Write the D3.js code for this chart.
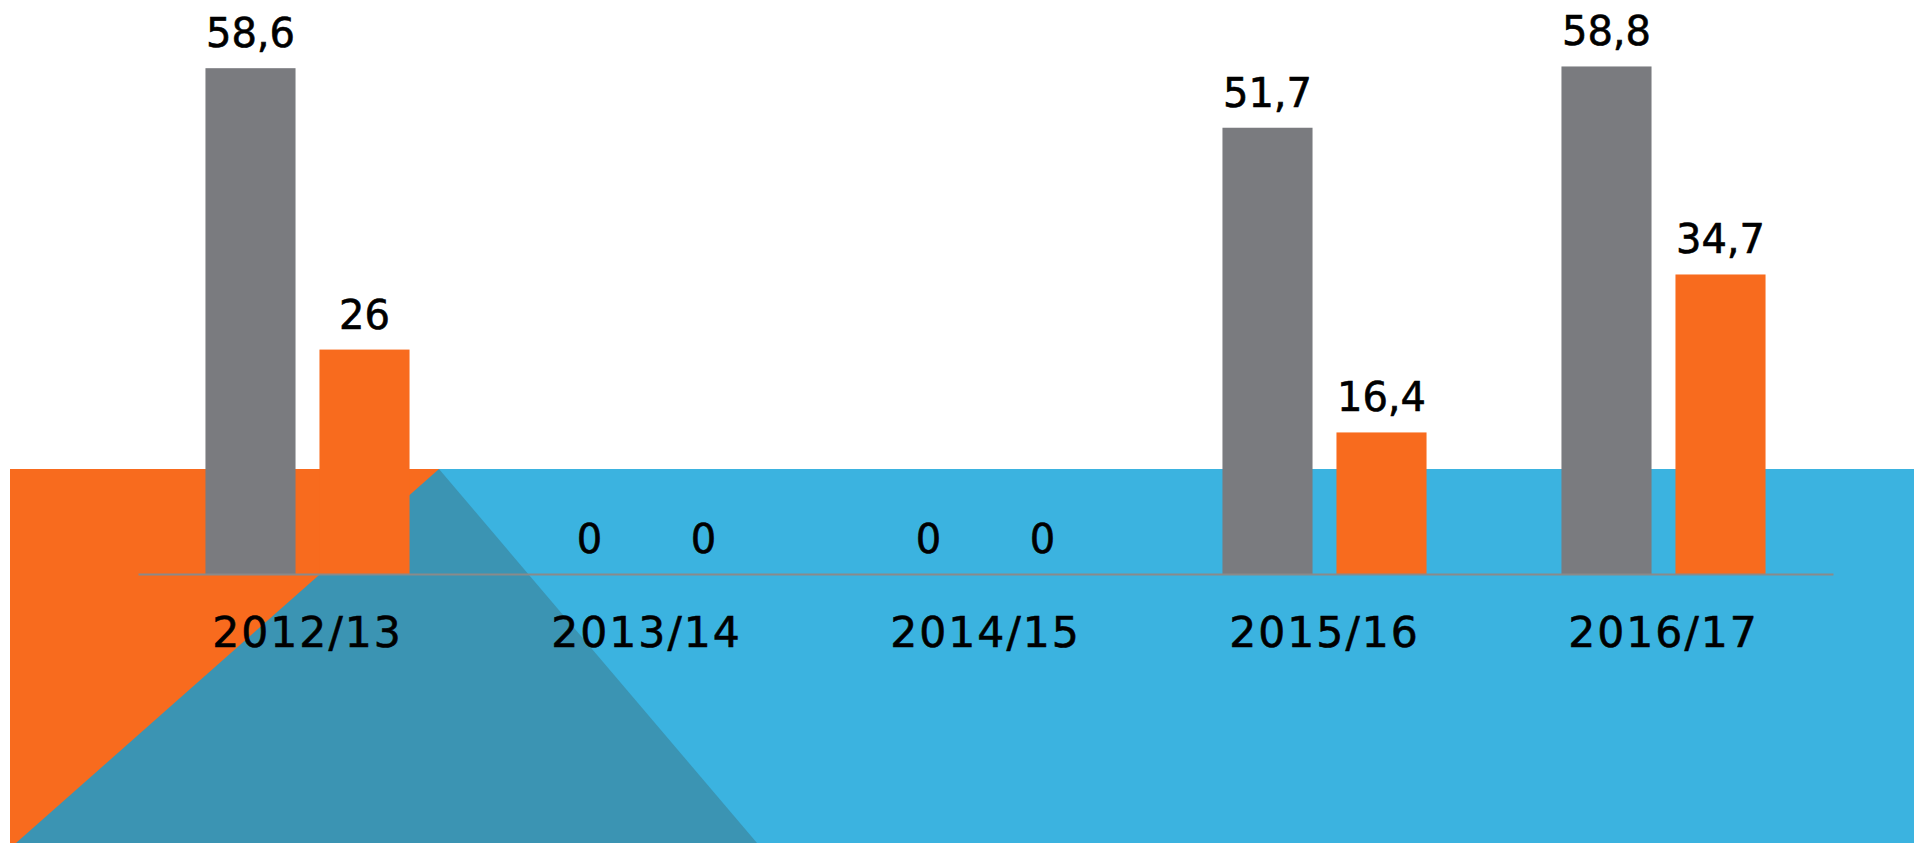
<!DOCTYPE html>
<html>
<head>
<meta charset="utf-8">
<script src="https://cdn.jsdelivr.net/npm/d3@7"></script>
<style>
  html, body { margin: 0; padding: 0; background: #fff; }
  svg { display: block; }
  text { font-family: "DejaVu Sans", sans-serif; fill: #000; }
</style>
</head>
<body>
<script>
var categories = ["2012/13", "2013/14", "2014/15", "2015/16", "2016/17"];
var seriesKeys = ["grey", "orange"];
var greyValues = [58.6, 0, 0, 51.7, 58.8];
var orangeValues = [26, 0, 0, 16.4, 34.7];
var colors = { grey: "#7a7b7f", orange: "#f86b1e" };

var width = 1914, height = 843;
var baseY = 574;

var svg = d3.select("body").append("svg")
    .attr("width", width)
    .attr("height", height);

// decorative background band
var bandTop = 469;
svg.append("rect")
    .attr("x", 10).attr("y", bandTop)
    .attr("width", 432).attr("height", height - bandTop)
    .style("fill", "#f86b1e");
svg.append("rect")
    .attr("x", 439).attr("y", bandTop)
    .attr("width", width - 439).attr("height", height - bandTop)
    .style("fill", "#3bb3e0");
svg.append("polygon")
    .attr("points", [[439, bandTop], [16, 843], [757, 843]].join(" "))
    .style("fill", "#3b94b3");

var x0 = d3.scaleBand()
    .domain(categories)
    .range([138, 1833])
    .paddingInner(0.398)
    .paddingOuter(0.199);

var x1 = d3.scaleBand()
    .domain(seriesKeys)
    .range([0, x0.bandwidth()])
    .paddingInner(0.21);

var y = d3.scaleLinear()
    .domain([0, 66.5])
    .range([baseY, 0]);

var rows = categories.map(function(c, i) {
    return { cat: c, grey: greyValues[i], orange: orangeValues[i] };
});

var fmt = function(v) { return String(v).replace(".", ","); };

var groups = svg.selectAll(".group")
    .data(rows)
    .enter()
    .append("g")
    .attr("class", "group")
    .attr("transform", function(d) { return "translate(" + x0(d.cat) + ",0)"; });

groups.selectAll("rect")
    .data(function(d) { return seriesKeys.map(function(k) { return { key: k, value: d[k] }; }); })
    .enter()
    .append("rect")
    .attr("x", function(d) { return x1(d.key); })
    .attr("y", function(d) { return y(d.value); })
    .attr("width", x1.bandwidth())
    .attr("height", function(d) { return baseY - y(d.value); })
    .style("fill", function(d) { return colors[d.key]; });

groups.selectAll(".val")
    .data(function(d) { return seriesKeys.map(function(k) { return { key: k, value: d[k] }; }); })
    .enter()
    .append("text")
    .attr("class", "val")
    .attr("x", function(d) { return x1(d.key) + x1.bandwidth() / 2; })
    .attr("y", function(d) { return y(d.value) - 21; })
    .attr("text-anchor", "middle")
    .style("font-size", "40px")
    .style("stroke", "#000")
    .style("stroke-width", 0.6)
    .text(function(d) { return fmt(d.value); });

// axis
var axis = svg.append("g")
    .attr("transform", "translate(0," + baseY + ")")
    .call(d3.axisBottom(x0).tickSize(0).tickPadding(0));
axis.select(".domain")
    .attr("stroke", "#8a8a8a")
    .attr("stroke-width", 2);
axis.selectAll(".tick text")
    .attr("y", 73)
    .attr("dy", 0)
    .style("font-size", "42.5px")
    .style("letter-spacing", "2px")
    .style("font-family", "'DejaVu Sans', sans-serif")
    .style("stroke", "#000")
    .style("stroke-width", 0.6)
    .style("fill", "#000");
</script>
</body>
</html>
